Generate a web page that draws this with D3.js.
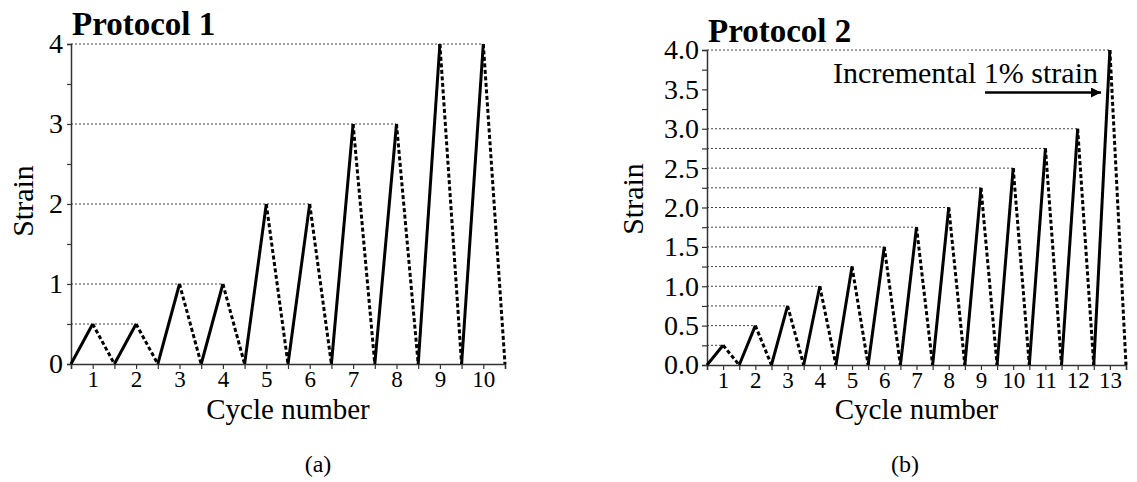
<!DOCTYPE html>
<html>
<head>
<meta charset="utf-8">
<script src="https://cdn.jsdelivr.net/npm/d3@7"></script>
<style>
  html, body { margin: 0; padding: 0; background: #fff; }
  svg { display: block; }
  svg text { font-family: "Liberation Serif", "DejaVu Serif", serif !important; fill: #000; }
</style>
</head>
<body>
<svg id="chart" width="1137" height="482"></svg>
<script>
// Peak strain reached in each loading cycle
const protocol1Cycles = [1, 2, 3, 4, 5, 6, 7, 8, 9, 10];
const protocol1Peaks  = [0.5, 0.5, 1, 1, 2, 2, 3, 3, 4, 4];
const protocol1YTicks = [0, 1, 2, 3, 4];

const protocol2Cycles = [1, 2, 3, 4, 5, 6, 7, 8, 9, 10, 11, 12, 13];
const protocol2Peaks  = [0.25, 0.5, 0.75, 1.0, 1.25, 1.5, 1.75, 2.0, 2.25, 2.5, 2.75, 3.0, 4.0];
const protocol2YTicks = [0, 0.5, 1.0, 1.5, 2.0, 2.5, 3.0, 3.5, 4.0];

const SERIF = "Liberation Serif";
const svg = d3.select("#chart");

function drawPanel(cfg) {
  const g = svg.append("g");
  const x = d3.scaleLinear().domain([0.5, cfg.cycles.length + 0.5]).range([cfg.x0, cfg.x1]);
  const y = d3.scaleLinear().domain([0, 4]).range([cfg.y0, cfg.y1]);

  // dotted reference lines from the axis to the last peak of each level
  const levels = Array.from(new Set(cfg.peaks));
  levels.forEach(v => {
    const lastIdx = cfg.peaks.lastIndexOf(v);
    g.append("line")
      .attr("x1", x(0.5)).attr("x2", x(cfg.cycles[lastIdx]))
      .attr("y1", y(v)).attr("y2", y(v))
      .attr("stroke", "#444").attr("stroke-width", 1)
      .attr("stroke-dasharray", "2,2");
  });

  // y axis
  const yAxis = d3.axisLeft(y)
    .tickValues(d3.range(0, 4 + 1e-9, cfg.yMinorStep))
    .tickSize(cfg.yTickSize)
    .tickPadding(cfg.yPad)
    .tickFormat(d => cfg.yTicks.some(t => Math.abs(t - d) < 1e-9) ? cfg.yFormat(d) : "");
  const ya = g.append("g").attr("transform", `translate(${x(0.5)},0)`).call(yAxis)
    .attr("font-family", SERIF).attr("font-size", cfg.yFont);
  ya.select(".domain").attr("stroke", "#333").attr("stroke-width", 1.5);
  ya.selectAll(".tick line").attr("stroke", "#333").attr("stroke-width", 1.2);

  // x axis
  const xAxis = d3.axisBottom(x)
    .tickValues(d3.range(0.5, cfg.cycles.length + 0.5 + 1e-9, 0.5))
    .tickSize(5)
    .tickPadding(cfg.xPad)
    .tickFormat(d => Number.isInteger(d) ? String(d) : "");
  const xa = g.append("g").attr("transform", `translate(0,${y(0)})`).call(xAxis)
    .attr("font-family", SERIF).attr("font-size", cfg.xFont);
  xa.select(".domain").attr("stroke", "#333").attr("stroke-width", 1.5);
  xa.selectAll(".tick line").attr("stroke", "#333").attr("stroke-width", 1.2);

  // loading (solid) and unloading (dashed) strokes
  const line = d3.line().x(d => x(d[0])).y(d => y(d[1]));
  cfg.cycles.forEach((c, i) => {
    const p = cfg.peaks[i];
    g.append("path")
      .attr("d", line([[c - 0.5, 0], [c, p]]))
      .attr("fill", "none").attr("stroke", "#000").attr("stroke-width", 3);
    g.append("path")
      .attr("d", line([[c, p], [c + 0.5, 0]]))
      .attr("fill", "none").attr("stroke", "#000").attr("stroke-width", 3)
      .attr("stroke-dasharray", "4,2.5");
  });

  // titles and axis labels
  g.append("text")
    .attr("x", x(0.5) + 1).attr("y", cfg.titleY)
    .attr("font-family", SERIF).attr("font-size", 33).attr("font-weight", "bold")
    .text(cfg.title);
  g.append("text")
    .attr("x", (cfg.x0 + cfg.x1) / 2).attr("y", cfg.xLabelY)
    .attr("text-anchor", "middle")
    .attr("font-family", SERIF).attr("font-size", 29)
    .text("Cycle number");
  g.append("text")
    .attr("transform", `translate(${cfg.yLabelX},${cfg.yLabelCY}) rotate(-90)`)
    .attr("text-anchor", "middle")
    .attr("font-family", SERIF).attr("font-size", 30)
    .text("Strain");
  g.append("text")
    .attr("x", cfg.capX).attr("y", 472)
    .attr("text-anchor", "middle")
    .attr("font-family", SERIF).attr("font-size", 24)
    .text(cfg.caption);
  return { g, x, y };
}

drawPanel({
  cycles: protocol1Cycles, peaks: protocol1Peaks, yTicks: protocol1YTicks,
  x0: 71, x1: 505, y0: 364, y1: 44,
  yMinorStep: 0.5, yTickSize: 4, yPad: 4, yFont: 28, yFormat: d => d3.format("d")(d),
  xPad: 2, xFont: 23,
  title: "Protocol 1", titleY: 35,
  xLabelY: 419, yLabelX: 33, yLabelCY: 201,
  capX: 318, caption: "(a)"
});

const p2 = drawPanel({
  cycles: protocol2Cycles, peaks: protocol2Peaks, yTicks: protocol2YTicks,
  x0: 707, x1: 1126, y0: 365, y1: 50,
  yMinorStep: 0.25, yTickSize: 5, yPad: 3, yFont: 28, yFormat: d => d3.format(".1f")(d),
  xPad: 2, xFont: 23,
  title: "Protocol 2", titleY: 42,
  xLabelY: 419, yLabelX: 643, yLabelCY: 199,
  capX: 905, caption: "(b)"
});

// annotation for the incremental strain step
const defs = svg.append("defs");
defs.append("marker")
  .attr("id", "arrowhead")
  .attr("viewBox", "0 0 10 10").attr("refX", 10).attr("refY", 5)
  .attr("markerWidth", 7).attr("markerHeight", 4).attr("markerUnits", "strokeWidth")
  .attr("orient", "auto")
  .append("path").attr("d", "M0,0 L10,5 L0,10 Z").attr("fill", "#000");

p2.g.append("text")
  .attr("x", 1098).attr("y", 83)
  .attr("text-anchor", "end")
  .attr("font-family", SERIF).attr("font-size", 30)
  .text("Incremental 1% strain");
p2.g.append("line")
  .attr("x1", 985).attr("x2", 1101)
  .attr("y1", 92.5).attr("y2", 92.5)
  .attr("stroke", "#000").attr("stroke-width", 2.5)
  .attr("marker-end", "url(#arrowhead)");
</script>
</body>
</html>
